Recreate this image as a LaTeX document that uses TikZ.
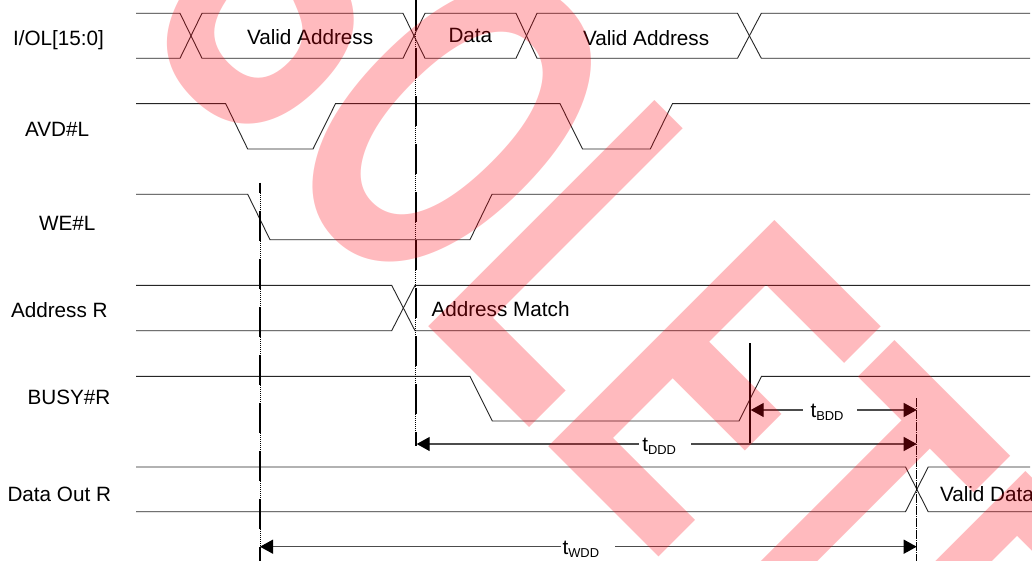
\documentclass[tikz,border=0pt]{standalone}
\usepackage{fontspec}
\setmainfont{Liberation Sans}
\newfontfamily\wmfont{Liberation Sans}
\usetikzlibrary{arrows.meta}
\definecolor{wm}{RGB}{255,0,15}
\newcommand{\tsub}[2]{t\raisebox{-3pt}{\fontsize{12.9}{14}\selectfont #2}}
\begin{document}
\begin{tikzpicture}[x=1pt,y=-1pt,
  sig/.style={line width=0.9pt, draw=black!85, line join=miter},
  lbl/.style={anchor=base west, inner sep=0pt, outer sep=0pt, font=\fontsize{20.7}{24}\selectfont},
  dim/.style={line width=1.3pt, draw=black!70},
  arrL/.style={{Triangle[length=13pt,width=14pt,color=black]}-},
  arrR/.style={-{Triangle[length=13pt,width=14pt,color=black]}},
  curthin/.style={line width=0.6pt, draw=black, dash pattern=on 1pt off 1pt},
  curthick/.style={line width=1.6pt, draw=black, dash pattern=on 30pt off 18pt},
  curthree/.style={line width=1pt, draw=black, dash pattern=on 8pt off 4pt},
]
\useasboundingbox (0,0) rectangle (1032,561);
\clip (0,0) rectangle (1032,561);
\fill[white] (0,0) rectangle (1032,561);

% ---------- signal labels ----------
\node[lbl] (lio)   at (13,45.5)  {I/OL[15:0]};
\node[lbl] (lavd)  at (25,136.5) {AVD\#L};
\node[lbl] (lwe)   at (39,230.5) {WE\#L};
\node[lbl] (ladr)  at (11,317.3) {Address R};
\node[lbl] (lbusy) at (27.5,404) {BUSY\#R};
\node[lbl] (ldo)   at (7.5,501)  {Data Out R};

% ---------- I/OL[15:0] bus ----------
\draw[sig] (136,13.3) -- (180,13.3) -- (202,58.3) -- (403,58.3) -- (425,13.3) -- (516,13.3) -- (537,58.3) -- (737.5,58.3) -- (761.3,13.3) -- (1030,13.3);
\draw[sig] (136,58.3) -- (180,58.3) -- (202,13.3) -- (403,13.3) -- (425,58.3) -- (516,58.3) -- (537,13.3) -- (737.5,13.3) -- (761.3,58.3) -- (1030,58.3);
\node[lbl] (va1) at (247,45) {Valid Address};
\node[lbl] (dat) at (448.5,42.7) {Data};
\node[lbl] (va2) at (583,45.3) {Valid Address};

% ---------- AVD#L ----------
\draw[sig] (136,103.7) -- (225.7,103.7) -- (247.7,149) -- (313,149) -- (335.5,103.7) -- (560,103.7) -- (582.5,149) -- (650.3,149) -- (672.4,103.7) -- (1030,103.7);

% ---------- WE#L ----------
\draw[sig] (136,194.3) -- (247.7,194.3) -- (270,239.7) -- (470,239.7) -- (492,194.3) -- (1030,194.3);

% ---------- Address R bus ----------
\draw[sig] (136,285.3) -- (391.7,285.3) -- (415,330.7) -- (1030,330.7);
\draw[sig] (136,330.7) -- (391.7,330.7) -- (415,285.3) -- (1030,285.3);
\node[lbl] (am) at (431.5,316.7) {Address Match};

% ---------- BUSY#R ----------
\draw[sig] (136,376.3) -- (470,376.3) -- (492.3,421) -- (739,421) -- (761.5,376.3) -- (1030,376.3);

% ---------- Data Out R bus ----------
\draw[sig] (136,467) -- (905.5,467) -- (928.2,511.7) -- (1032,511.7);
\draw[sig] (136,511.7) -- (905.5,511.7) -- (928.2,467) -- (1030,467);
\node[lbl] (vd) at (940,501) {Valid Data};

% ---------- cursor lines ----------
\coordinate (c1t) at (260,183);   \coordinate (c1b) at (260,561);
\coordinate (c2t) at (415.7,0);   \coordinate (c2b) at (415.7,445.7);
\coordinate (c3t) at (916.7,398); \coordinate (c3b) at (916.7,561);
\coordinate (c4t) at (750,343.3); \coordinate (c4b) at (750,444);
\draw[curthin] (c1t) -- (c1b);
\draw[curthick, dash phase=20pt] (c1t) -- (c1b);
\draw[curthin] (c2t) -- (c2b);
\draw[curthick] (c2t) -- (c2b);
\draw[curthin] (c3t) -- (c3b);
\draw[curthree] (c3t) -- (c3b);
\draw[line width=2.4pt, black] (c4t) -- (c4b);

% ---------- timing arrows ----------
% tBDD
\coordinate (bddL) at (750.7,410); \coordinate (bddR) at (916.7,410);
\node[lbl] (tbdd) at (810.5,417.3) {\tsub{t}{BDD}};
\coordinate (bddg1) at (803,410); \coordinate (bddg2) at (857,410);
\draw[dim,arrL] (bddL) -- (bddg1);
\draw[dim,arrR] (bddg2) -- (bddR);
% tDDD
\coordinate (dddL) at (416.7,444); \coordinate (dddR) at (916.7,444);
\node[lbl] (tddd) at (642.3,451.7) {\tsub{t}{DDD}};
\coordinate (dddg1) at (639,444); \coordinate (dddg2) at (691,444);
\draw[dim,arrL] (dddL) -- (dddg1);
\draw[dim,arrR] (dddg2) -- (dddR);
% tWDD
\coordinate (wddL) at (260,546.7); \coordinate (wddR) at (916.7,546.7);
\node[lbl] (twdd) at (562.5,554.2) {\tsub{t}{WDD}};
\coordinate (wddg1) at (561,546.7); \coordinate (wddg2) at (615,546.7);
\draw[dim,arrL] (wddL) -- (wddg1);
\draw[dim,arrR] (wddg2) -- (wddR);

% ---------- watermark ----------
\node[anchor=base west, inner sep=0pt, outer sep=0pt, rotate=-45, xscale=0.598,
      text=wm, text opacity=0.27,
      font=\wmfont\bfseries\fontsize{465}{465}\selectfont] (wmark) at (-164,-265.9) {OBSOLETE};
\end{tikzpicture}
\end{document}
